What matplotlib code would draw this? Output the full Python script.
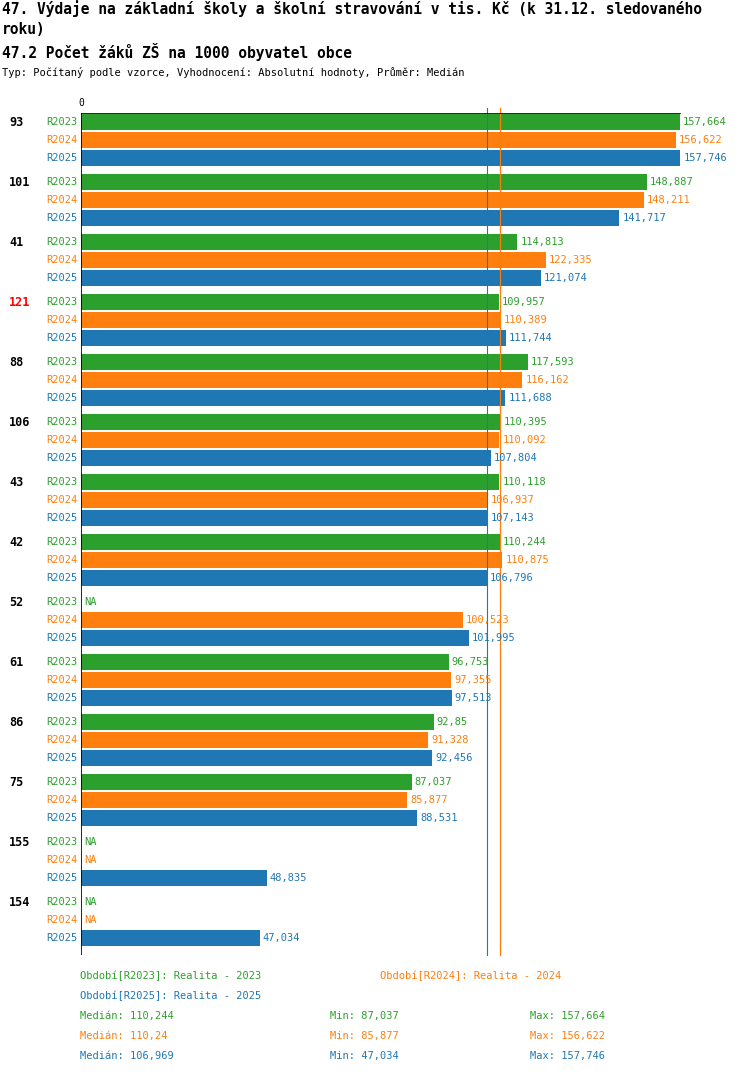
import numpy as np
import matplotlib
matplotlib.use("Agg")
import matplotlib.pyplot as plt

plt.rcParams['font.family'] = ['DejaVu Sans Mono']

groups = ["93", "101", "41", "121", "88", "106", "43", "42", "52", "61", "86", "75", "155", "154"]
r2023 = [157.664, 148.887, 114.813, 109.957, 117.593, 110.395, 110.118, 110.244, None, 96.753, 92.85, 87.037, None, None]
r2024 = [156.622, 148.211, 122.335, 110.389, 116.162, 110.092, 106.937, 110.875, 100.523, 97.355, 91.328, 85.877, None, None]
r2025 = [157.746, 141.717, 121.074, 111.744, 111.688, 107.804, 107.143, 106.796, 101.995, 97.513, 92.456, 88.531, 48.835, 47.034]
series = [("R2023", r2023, "#2ca02c"), ("R2024", r2024, "#ff7f0e"), ("R2025", r2025, "#1f77b4")]
medians = [110.244, 110.24, 106.969]
mins = [87.037, 85.877, 47.034]
maxs = [157.664, 156.622, 157.746]
highlight = "121"

W, H = 750, 1074
fig = plt.figure(figsize=(W / 100, H / 100), dpi=100)
ax = fig.add_axes([81 / W, 1 - 955 / H, (730 - 81) / W, (955 - 113) / H])
ax.set_xlim(0, 170.8)
ax.set_ylim(842, 0)
ax.axis("off")

def fmt(v):
    s = f"{v:.3f}".rstrip("0").rstrip(".")
    return s.replace(".", ",")

for gi, g in enumerate(groups):
    base = 60 * gi
    for si, (name, vals, col) in enumerate(series):
        yc = base + 9 + 18 * si
        v = vals[gi]
        ax.text(-0.8, yc, name, color=col, fontsize=7.5, ha="right", va="center")
        if v is None:
            ax.text(0.8, yc, "NA", color=col, fontsize=7.5, ha="left", va="center")
        else:
            ax.barh(yc, v, height=16, color=col)
            ax.text(v + 0.8, yc, fmt(v), color=col, fontsize=7.5, ha="left", va="center")
    fig.text(9 / W, 1 - (113 + base + 9) / H, g, color="red" if g == highlight else "black",
             fontsize=8.5, fontweight="bold", ha="left", va="center")

for m, (_, _, col) in zip(medians, series):
    ax.plot([m, m], [-5, 842], color=col, lw=0.8, clip_on=False)
ax.plot([0, 157.746], [0, 0], color="black", lw=1.2)
ax.plot([0, 0], [0, 842], color="black", lw=1.2)
ax.text(0, -5, "0", fontsize=7, ha="center", va="bottom")

fig.text(2 / W, 1 - 9 / H, "47. Výdaje na základní školy a školní stravování v tis. Kč (k 31.12. sledovaného",
         fontsize=10.5, fontweight="bold", va="center")
fig.text(2 / W, 1 - 29 / H, "roku)", fontsize=10.5, fontweight="bold", va="center")
fig.text(2 / W, 1 - 52 / H, "47.2 Počet žáků ZŠ na 1000 obyvatel obce", fontsize=10.5, fontweight="bold", va="center")
fig.text(2 / W, 1 - 73 / H, "Typ: Počítaný podle vzorce, Vyhodnocení: Absolutní hodnoty, Průměr: Medián",
         fontsize=7.5, va="center")

def ft(x, y, s, c):
    fig.text(x / W, 1 - y / H, s, color=c, fontsize=7.5, va="center")

ft(80, 976, "Období[R2023]: Realita - 2023", series[0][2])
ft(380, 976, "Období[R2024]: Realita - 2024", series[1][2])
ft(80, 996, "Období[R2025]: Realita - 2025", series[2][2])
for i, (_, _, col) in enumerate(series):
    y = 1016 + 20 * i
    ft(80, y, "Medián: " + fmt(medians[i]), col)
    ft(330, y, "Min: " + fmt(mins[i]), col)
    ft(530, y, "Max: " + fmt(maxs[i]), col)

fig.savefig("out.png", dpi=100)
